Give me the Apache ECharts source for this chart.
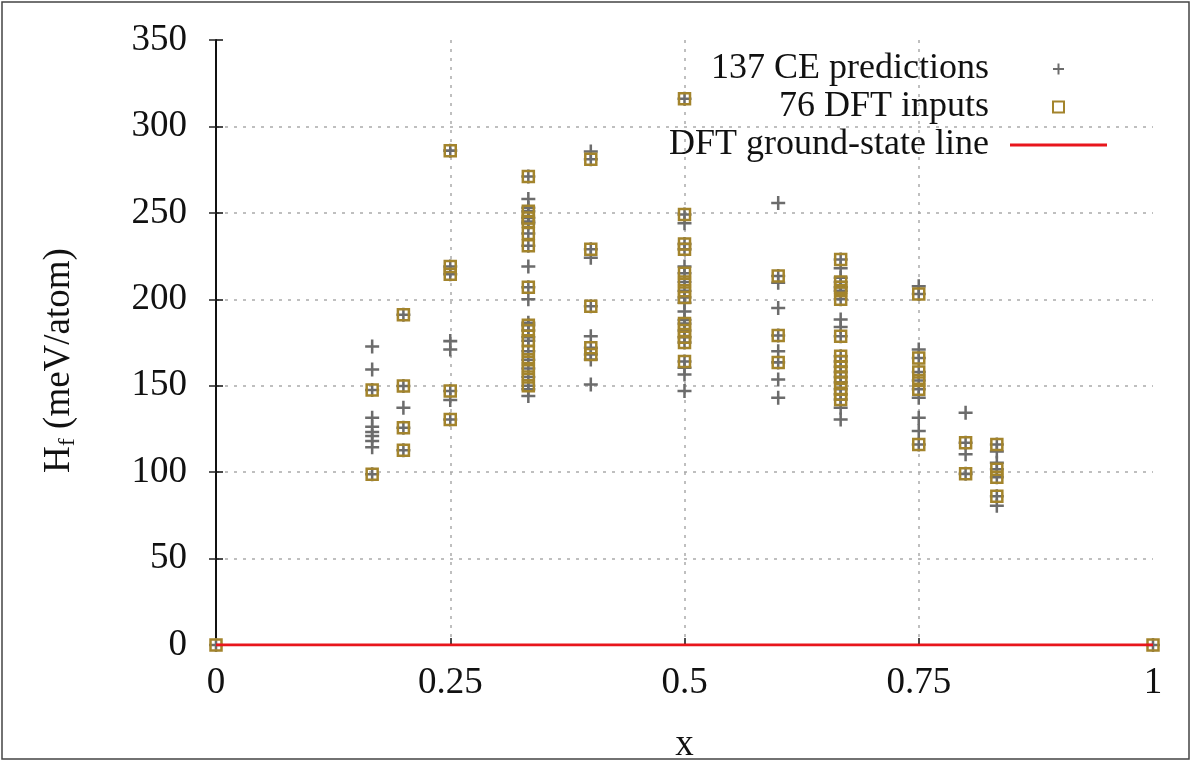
<!DOCTYPE html>
<html>
<head>
<meta charset="utf-8">
<script src="https://cdn.jsdelivr.net/npm/echarts@6/dist/echarts.min.js"></script>
<style>
html,body{margin:0;padding:0;background:#fff;}
#chart{width:1192px;height:763px;}
</style>
</head>
<body>
<div id="chart"></div>
<script>
// Compositions (x) where structures were computed
const compositions = [0, 1/6, 0.2, 0.25, 1/3, 0.4, 0.5, 0.6, 2/3, 0.75, 0.8, 5/6, 1];
// DFT input formation enthalpies (meV/atom) per composition
const dftInputs = [
  [0],
  [147.5, 98.8],
  [191, 149.8, 125.7, 112.6],
  [286, 219, 214.5, 147, 130.5],
  [271, 251, 247, 245, 238, 231, 207, 185, 182, 176, 170, 165, 160, 155, 150],
  [281, 229, 196, 172, 168],
  [316, 249, 232, 229, 215, 210, 205, 201, 186, 182, 178, 175, 164],
  [213.5, 179, 163.5],
  [223, 210, 207, 205, 200, 178.6, 167, 164, 161, 158, 155, 152, 148, 145, 142],
  [203, 166, 158, 153, 148, 116],
  [117, 99],
  [116, 101.7, 97, 86],
  [0]
];
// Additional CE predictions (not among DFT inputs) per composition
const ceExtra = [
  [],
  [172.7, 159.4, 131.5, 126.3, 123.2, 120.9, 118, 114.4],
  [137.3],
  [175.8, 171, 141.7],
  [258, 253, 244, 219, 200, 186.4, 178, 148, 144],
  [285.5, 224, 178.6, 165.2, 150.7],
  [244, 219, 198, 193, 188, 160.4, 156.5, 146.9],
  [255.7, 209.5, 195, 170, 153.6, 143],
  [218, 212.4, 188.3, 184, 137.3, 130.5],
  [207.5, 171, 143, 131.5, 123.8],
  [134.4, 110.3],
  [112, 105.5, 80.5],
  []
];
// DFT ground-state line
const groundStateX = [0, 1];
const groundStateY = [0, 0];
// Tick labels
const xTickLabels = ['0', '0.25', '0.5', '0.75', '1'];
const legendNames = ['137 CE predictions', '76 DFT inputs', 'DFT ground-state line'];

const dftPoints = [];
const cePoints = [];
compositions.forEach((x, i) => {
  dftInputs[i].forEach(v => { dftPoints.push([x, v]); cePoints.push([x, v]); });
  ceExtra[i].forEach(v => cePoints.push([x, v]));
});
const linePoints = groundStateX.map((x, i) => [x, groundStateY[i]]);

const FONT = 'Liberation Serif';
const crossPath = 'path://M8.2,0H11.8V8.2H20V11.8H11.8V20H8.2V11.8H0V8.2H8.2Z';
const squarePath = 'path://M0,0H10V10H0Z';
const lineIcon = 'path://M0,0H97V3H0Z';

const chart = echarts.init(document.getElementById('chart'), null, {renderer: 'canvas'});
chart.setOption({
  backgroundColor: '#fff',
  animation: false,
  textStyle: {fontFamily: FONT},
  grid: {left: 216, right: 39, top: 40, bottom: 118, containLabel: false, outerBoundsMode: 'none'},
  graphic: [{
    type: 'rect', shape: {x: 2, y: 2, width: 1187, height: 757},
    style: {fill: 'none', stroke: '#444', lineWidth: 1.5}, silent: true, z: 0
  }],
  legend: {
    show: true,
    orient: 'vertical',
    align: 'right',
    right: 80,
    top: 45,
    itemWidth: 97,
    itemHeight: 11,
    itemGap: 0,
    symbolKeepAspect: true,
    data: [
      {name: legendNames[0], icon: crossPath},
      {name: legendNames[1], icon: squarePath},
      {name: legendNames[2], icon: lineIcon}
    ],
    textStyle: {fontFamily: FONT, fontSize: 36, color: '#111', lineHeight: 38, padding: [0, 16, 0, 0]}
  },
  xAxis: [{
    type: 'value', min: 0, max: 1, interval: 0.25,
    name: 'x', nameLocation: 'middle', nameGap: 82,
    nameTextStyle: {fontFamily: FONT, fontSize: 37, color: '#111'},
    axisLine: {show: true, lineStyle: {color: '#111', width: 2}},
    axisTick: {show: true, inside: true, length: 7, lineStyle: {color: '#111', width: 1.5}},
    axisLabel: {
      fontFamily: FONT, fontSize: 37, color: '#111', margin: 20,
      formatter: (v) => xTickLabels[Math.round(v / 0.25)]
    },
    splitLine: {show: true, showMinLine: false, showMaxLine: false,
      lineStyle: {color: '#aaa', width: 1.5, type: [3, 6]}}
  }, {
    type: 'value', position: 'top', min: 0, max: 1, interval: 0.25,
    axisLine: {show: true, lineStyle: {color: '#111', width: 2}},
    axisTick: {show: false}, axisLabel: {show: false}, splitLine: {show: false}
  }],
  yAxis: [{
    type: 'value', min: 0, max: 350, interval: 50,
    name: '{a|H}{b|f}{a| (meV/atom)}', nameLocation: 'middle', nameGap: 134,
    nameTextStyle: {
      color: '#111',
      padding: [0, 36, 0, 0],
      rich: {
        a: {fontFamily: FONT, fontSize: 37, color: '#111', lineHeight: 46, verticalAlign: 'middle'},
        b: {fontFamily: FONT, fontSize: 24, color: '#111', lineHeight: 46, verticalAlign: 'bottom', padding: [0, 0, 2, 0]}
      }
    },
    axisLine: {show: true, lineStyle: {color: '#111', width: 2}},
    axisTick: {show: true, inside: true, length: 7, lineStyle: {color: '#111', width: 1.5}},
    axisLabel: {fontFamily: FONT, fontSize: 37, color: '#111', margin: 29},
    splitLine: {show: true, showMinLine: false, showMaxLine: false,
      lineStyle: {color: '#aaa', width: 1.5, type: [3, 6]}}
  }, {
    type: 'value', position: 'right', min: 0, max: 350, interval: 50,
    axisLine: {show: false},
    axisTick: {show: true, inside: true, length: 7, lineStyle: {color: '#222', width: 1.5}},
    axisLabel: {show: false}, splitLine: {show: false}
  }],
  series: [{
    name: legendNames[0],
    type: 'scatter',
    data: cePoints,
    symbol: crossPath,
    symbolSize: 14,
    itemStyle: {color: '#6c6c6c', opacity: 1},
    z: 3
  }, {
    name: legendNames[1],
    type: 'scatter',
    data: dftPoints,
    symbol: squarePath,
    symbolSize: 11,
    itemStyle: {color: 'rgba(0,0,0,0)', borderColor: '#a3842c', borderWidth: 2.5, opacity: 1},
    z: 4
  }, {
    name: legendNames[2],
    type: 'line',
    data: linePoints,
    symbol: 'none',
    lineStyle: {color: '#e8161c', width: 3},
    itemStyle: {color: '#e8161c'},
    z: 5
  }]
});
</script>
</body>
</html>
